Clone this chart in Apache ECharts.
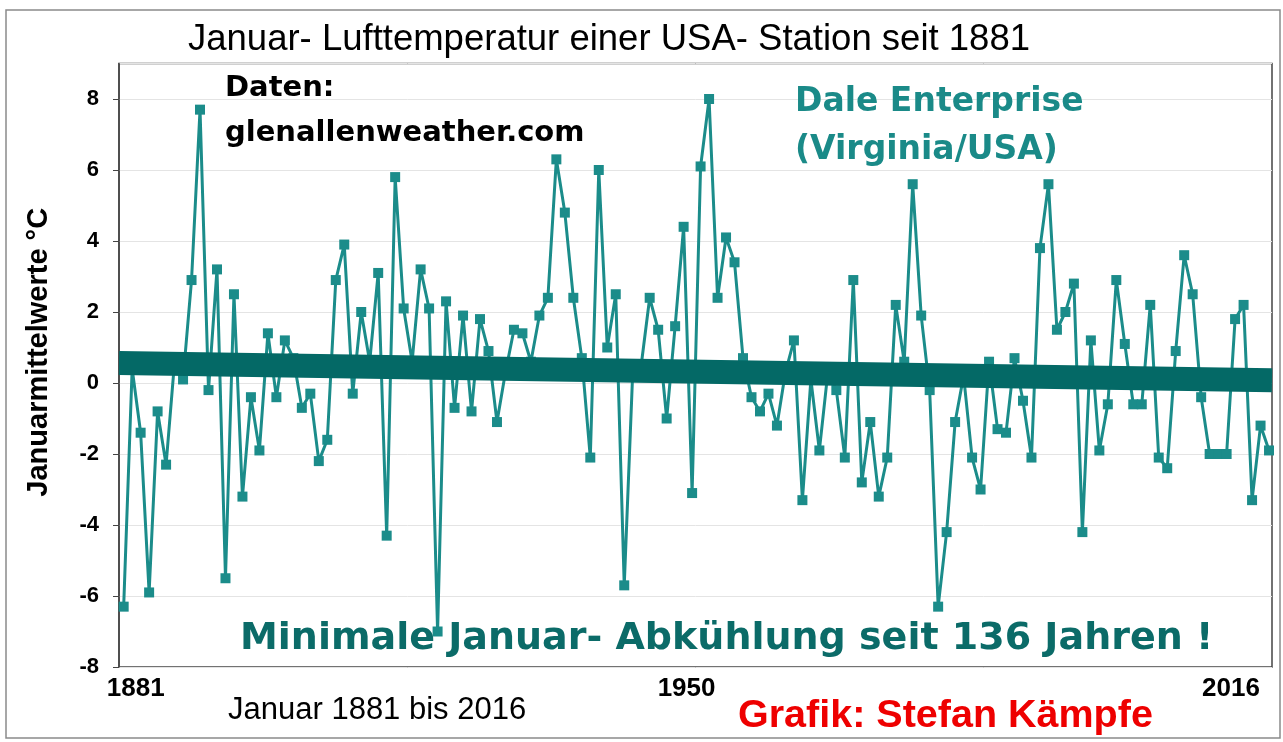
<!DOCTYPE html>
<html>
<head>
<meta charset="utf-8">
<script src="https://cdn.jsdelivr.net/npm/echarts@6/dist/echarts.min.js"></script>
<style>
  html, body { margin: 0; padding: 0; background: #fff; }
  #main { width: 1283px; height: 742px; }
</style>
</head>
<body>
<div id="main"></div>
<script>
let chartDom = document.getElementById('main');
let myChart = echarts.init(chartDom);

// Januar-Mittel Dale Enterprise, 1881..2016
let firstYear = 1881;
let temps1880s = [-6.3, 0.4, -1.4, -5.9, -0.8, -2.3, 0.6, 0.1, 2.9, 7.7];
let temps1890s = [-0.2, 3.2, -5.5, 2.5, -3.2, -0.4, -1.9, 1.4, -0.4, 1.2];
let temps1900s = [0.7, -0.7, -0.3, -2.2, -1.6, 2.9, 3.9, -0.3, 2.0, 0.6];
let temps1910s = [3.1, -4.3, 5.8, 2.1, 0.6, 3.2, 2.1, -7.0, 2.3, -0.7];
let temps1920s = [1.9, -0.8, 1.8, 0.9, -1.1, 0.3, 1.5, 1.4, 0.6, 1.9];
let temps1930s = [2.4, 6.3, 4.8, 2.4, 0.7, -2.1, 6.0, 1.0, 2.5, -5.7];
let temps1940s = [0.3, 0.5, 2.4, 1.5, -1.0, 1.6, 4.4, -3.1, 6.1, 8.0];
let temps1950s = [2.4, 4.1, 3.4, 0.7, -0.4, -0.8, -0.3, -1.2, 0.3, 1.2];
let temps1960s = [-3.3, 0.1, -1.9, 0.3, -0.2, -2.1, 2.9, -2.8, -1.1, -3.2];
let temps1970s = [-2.1, 2.2, 0.6, 5.6, 1.9, -0.2, -6.3, -4.2, -1.1, 0.2];
let temps1980s = [-2.1, -3.0, 0.6, -1.3, -1.4, 0.7, -0.5, -2.1, 3.8, 5.6];
let temps1990s = [1.5, 2.0, 2.8, -4.2, 1.2, -1.9, -0.6, 2.9, 1.1, -0.6];
let temps2000s = [-0.6, 2.2, -2.1, -2.4, 0.9, 3.6, 2.5, -0.4, -2.0, -2.0];
let temps2010s = [-2.0, 1.8, 2.2, -3.3, -1.2, -1.9];

// linearer Trend, vom linken bis zum rechten Diagrammrand
let trendYears = [1880.45, 2016.35];
let trendValues = [0.56, 0.08];

let xTickYears = [1881, 1950, 2016];

let temps = [].concat(temps1880s, temps1890s, temps1900s, temps1910s, temps1920s,
  temps1930s, temps1940s, temps1950s, temps1960s, temps1970s, temps1980s,
  temps1990s, temps2000s, temps2010s);
let years = temps.map(function (v, i) { return firstYear + i; });

let seriesData = years.map(function (y, i) { return [y, temps[i]]; });
let trendData = trendYears.map(function (y, i) { return [y, trendValues[i]]; });

let labelFont = {
  fontFamily: 'Liberation Sans, Arial, sans-serif',
  fontWeight: 'bold',
  fontSize: 26,
  color: '#000'
};

let option = {
  animation: false,
  backgroundColor: '#fff',
  grid: {
    left: 119,
    right: 11,
    top: 63.5,
    bottom: 75,
    outerBoundsMode: 'none',
    containLabel: false,
    show: true,
    borderColor: '#444',
    borderWidth: 1.5
  },
  xAxis: {
    type: 'value',
    min: 1880.45,
    max: 2016.35,
    axisLine: { show: false },
    axisTick: { show: false },
    splitLine: { show: false },
    axisLabel: {
      customValues: xTickYears,
      margin: 9,
      color: '#000',
      fontFamily: 'Liberation Sans, Arial, sans-serif',
      fontWeight: 'bold',
      fontSize: 26,
      formatter: function (v) {
        if (v === 1881) return '{a|1881}';
        if (v === 1950) return '{m|1950}';
        return '{z|' + v + '}';
      },
      rich: {
        a: Object.assign({ padding: [0, 0, 0, 24] }, labelFont),
        m: Object.assign({ padding: [0, 45, 0, 0] }, labelFont),
        z: Object.assign({ padding: [0, 76, 0, 0] }, labelFont)
      }
    }
  },
  yAxis: {
    type: 'value',
    min: -8,
    max: 9,
    interval: 2,
    name: 'Januarmittelwerte °C',
    nameLocation: 'middle',
    nameGap: 66,
    nameTextStyle: {
      color: '#000',
      fontFamily: 'Liberation Sans, Arial, sans-serif',
      fontWeight: 'bold',
      fontSize: 29,
      padding: [0, 0, 0, 26]
    },
    axisLine: { show: true, lineStyle: { color: '#444', width: 1.5 } },
    axisTick: { show: true, inside: false, length: 6, lineStyle: { color: '#444' } },
    splitLine: { show: true, lineStyle: { color: '#e4e4e4', width: 1 } },
    axisLabel: {
      margin: 20,
      color: '#000',
      fontFamily: 'Liberation Sans, Arial, sans-serif',
      fontWeight: 'bold',
      fontSize: 22,
      showMaxLabel: false
    }
  },
  graphic: [
    {
      type: 'rect',
      shape: { x: 6, y: 10, width: 1274, height: 728 },
      style: { fill: 'none', stroke: '#8a8a8a', lineWidth: 1.5 },
      z: 0
    },
    {
      type: 'text', left: 188, top: 21, z: 100,
      style: { text: 'Januar- Lufttemperatur einer USA- Station seit 1881',
        fill: '#000', font: '36.5px "Liberation Sans", Arial, sans-serif' }
    },
    {
      type: 'text', left: 225, top: 66, z: 100,
      style: { text: 'Daten:\nglenallenweather.com', lineHeight: 45,
        fill: '#000', font: 'bold 29px "DejaVu Sans", sans-serif' }
    },
    {
      type: 'text', left: 795, top: 78, z: 100,
      style: { text: 'Dale Enterprise\n(Virginia/USA)', lineHeight: 48,
        fill: '#1a8a88', font: 'bold 33px "DejaVu Sans", sans-serif' }
    },
    {
      type: 'text', left: 240, top: 620, z: 100,
      style: { text: 'Minimale Januar- Abkühlung seit 136 Jahren !',
        fill: '#0b6b68', font: 'bold 38px "DejaVu Sans", sans-serif' }
    },
    {
      type: 'text', left: 228, top: 695, z: 100,
      style: { text: 'Januar 1881 bis 2016',
        fill: '#000', font: '31px "Liberation Sans", Arial, sans-serif' }
    },
    {
      type: 'text', left: 738, top: 696, z: 100,
      style: { text: 'Grafik: Stefan Kämpfe',
        fill: '#ee0000', font: 'bold 39.5px "Liberation Sans", Arial, sans-serif' }
    }
  ],
  series: [
    {
      name: 'Januar',
      type: 'line',
      data: seriesData,
      symbol: 'rect',
      symbolSize: 10,
      lineStyle: { color: '#1b8c8a', width: 3 },
      itemStyle: { color: '#1b8c8a' },
      z: 2
    },
    {
      name: 'Trend',
      type: 'line',
      data: trendData,
      symbol: 'none',
      lineStyle: { color: '#046966', width: 24 },
      z: 3
    }
  ]
};

myChart.setOption(option);
</script>
</body>
</html>
